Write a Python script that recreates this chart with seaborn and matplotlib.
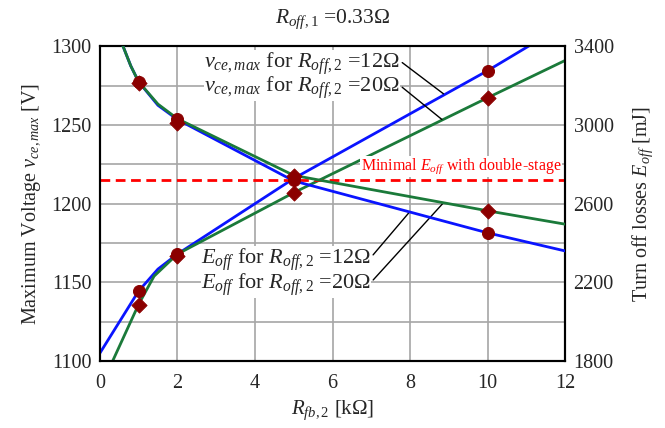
import matplotlib
matplotlib.use("Agg")
import matplotlib.pyplot as plt
import seaborn as sns

# v_ce,max [V] (left axis)
x_v12 = [0, 1, 1.5, 2, 5, 10, 12]
v12 = [1105, 1144.5, 1158.5, 1168, 1216, 1284.5, 1314]
x_v20 = [0.33, 1, 1.4, 2, 5, 10, 12]
v20 = [1100, 1136, 1154, 1168, 1207, 1267.3, 1291]

# E_off [mJ] (right axis)
x_e12 = [0.6, 0.8, 1, 1.5, 2, 5, 10, 12]
e12 = [3400, 3300, 3220, 3100, 3028, 2716, 2452, 2360]
x_e20 = [0.6, 0.8, 1, 1.5, 2, 5, 10, 12]
e20 = [3400, 3300, 3220, 3106, 3032, 2744, 2564, 2496]

# measured points (markers)
x_meas = [1, 2, 5, 10]
v12_meas = [1144.5, 1168, 1216.5, 1284.5]
v20_meas = [1135.7, 1167, 1207, 1267.3]
e12_meas = [3220, 3028, 2720, 2452]
e20_meas = [3212, 3008, 2740, 2564]

e_min_double = 2720

BLUE = "#0a14ff"
GREEN = "#1b7a3a"
MARK = "#8b0000"

sns.set_style("white")
plt.rcParams["font.family"] = ["Liberation Serif", "DejaVu Serif"]
plt.rcParams["mathtext.fontset"] = "custom"
plt.rcParams["mathtext.rm"] = "Liberation Serif"
plt.rcParams["mathtext.it"] = "Liberation Serif:italic"
plt.rcParams["mathtext.bf"] = "Liberation Serif:bold"

fig = plt.figure(figsize=(6.65, 4.28), dpi=100)
ax = fig.add_axes([0.150, 0.156, 0.700, 0.736])
ax2 = ax.twinx()

for xs, ys, c in [(x_v12, v12, BLUE), (x_v20, v20, GREEN)]:
    sns.lineplot(x=xs, y=ys, color=c, lw=2, sort=False, ax=ax, zorder=3)
for xs, ys, c in [(x_e12, e12, BLUE), (x_e20, e20, GREEN)]:
    sns.lineplot(x=xs, y=ys, color=c, lw=2, sort=False, ax=ax2, zorder=3)

ax2.axhline(e_min_double, color="red", ls=(0, (3.5, 2)), lw=2, zorder=2)

sns.scatterplot(x=x_meas, y=v20_meas, marker="D", s=60, color=MARK,
                edgecolor=MARK, ax=ax, zorder=5)
sns.scatterplot(x=x_meas, y=v12_meas, marker="o", s=75, color=MARK,
                edgecolor=MARK, ax=ax, zorder=5)
sns.scatterplot(x=x_meas, y=e20_meas, marker="D", s=60, color=MARK,
                edgecolor=MARK, ax=ax2, zorder=5)
sns.scatterplot(x=x_meas, y=e12_meas, marker="o", s=75, color=MARK,
                edgecolor=MARK, ax=ax2, zorder=5)

ax.set_xlim(0, 12)
ax.set_ylim(1100, 1300)
ax2.set_ylim(1800, 3400)
ax.set_xticks(range(0, 13, 2))
ax.set_yticks(range(1100, 1301, 50))
ax.set_yticks(range(1125, 1300, 50), minor=True)
ax2.set_yticks(range(1800, 3401, 400))
ax.grid(True, which="both", color="#a6a6a6", lw=1.2)
ax.set_axisbelow(True)
for a in (ax, ax2):
    a.tick_params(axis="both", which="both", length=0, labelsize=14.5, pad=6)
    for sp in a.spines.values():
        sp.set_linewidth(1.5)
        sp.set_color("black")
ax.tick_params(axis="x", pad=9)

ax.set_xlabel(r"$R_{fb,2}$ [kΩ]", fontsize=15, labelpad=4)
ax.set_ylabel(r"Maximum Voltage $v_{ce,max}$ [V]", fontsize=14.5, labelpad=6)
ax2.set_ylabel(r"Turn off losses $E_{off}$ [mJ]", fontsize=14.5, labelpad=12)
fig.text(0.5, 0.955, r"$R_{off,1}$ =0.33Ω", ha="center", va="center",
         fontsize=15.5)

lab = dict(fontsize=16, ha="right", va="center", zorder=6,
           bbox=dict(fc="white", ec="none", pad=0),
           arrowprops=dict(arrowstyle="-", color="black", lw=1,
                           shrinkA=2, shrinkB=0, relpos=(1, 0.6)))
ax.annotate(r"$v_{ce,max}$ for $R_{off,2}$ =12Ω", xy=(8.86, 1269.8),
            xytext=(7.74, 1289), **lab)
ax.annotate(r"$v_{ce,max}$ for $R_{off,2}$ =20Ω", xy=(8.82, 1253.5),
            xytext=(7.74, 1273.4), **lab)
ax.annotate(r"$E_{off}$ for $R_{off,2}$ =12Ω", xy=(7.96, 1194),
            xytext=(7.0, 1164.5), **lab)
ax.annotate(r"$E_{off}$ for $R_{off,2}$ =20Ω", xy=(8.86, 1200.6),
            xytext=(7.0, 1148.6), **lab)

ax2.text(11.9, 2790, r"Minimal $E_{off}$ with double-stage", color="red",
         fontsize=11.5, ha="right", va="center", zorder=6,
         bbox=dict(fc="white", ec="none", pad=0.5))

fig.savefig("out.png", dpi=100)
